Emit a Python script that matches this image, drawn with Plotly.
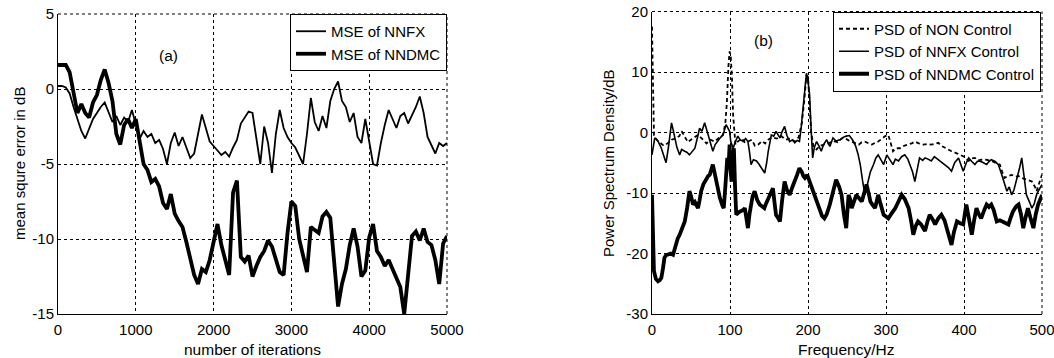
import plotly.graph_objects as go

# ---------------- (a) MSE vs iterations ----------------
iterations = list(range(0, 5001, 50))
mse_nnfx = [
    0.2, 0.2, 0.1, -0.3, -1.2, -2.0, -2.8, -3.3, -2.6, -2.0,
    -1.6, -1.2, -0.9, -1.5, -2.2, -1.8, -2.4, -1.9, -2.2, -1.4,
    -2.4, -3.3, -2.8, -3.2, -3.0, -3.6, -3.4, -4.0, -5.0, -3.6,
    -2.9, -3.8, -3.2, -3.9, -4.6, -4.3, -3.0, -1.7, -2.6, -3.5,
    -3.8, -4.1, -4.4, -4.2, -4.5, -3.9, -3.4, -2.3, -1.9, -1.5,
    -1.6, -3.2, -5.0, -2.5, -3.6, -5.6, -3.0, -1.4, -2.6, -3.2,
    -3.6, -3.9, -4.4, -5.0, -3.0, -0.6, -2.2, -2.8, -1.8, -2.6,
    -0.8, 0.0, 0.5, -0.8, -1.2, -2.2, -1.6, -3.2, -3.6, -2.0,
    -3.5, -5.0, -5.1, -3.6, -2.4, -1.4, -2.0, -2.6, -1.8, -1.6,
    -2.3, -1.8, -1.2, -0.5, -1.6, -3.2, -3.8, -4.3, -3.6, -3.8,
    -3.6,
]
mse_nndmc = [
    1.6, 1.6, 1.6, 1.1, -0.4, -1.6, -1.0, -1.6, -1.9, -0.9,
    -0.4, 0.6, 1.3, 0.4, -0.8, -3.0, -3.7, -2.4, -2.0, -2.6,
    -2.0, -3.4, -5.0, -5.4, -6.2, -6.0, -6.5, -7.6, -8.0, -7.0,
    -8.3, -8.8, -9.2, -10.2, -11.4, -12.4, -13.0, -12.0, -12.2, -11.4,
    -10.2, -9.0, -10.4, -11.5, -12.4, -6.9, -6.1, -11.2, -11.5, -11.1,
    -12.5, -11.8, -11.2, -10.8, -10.1, -10.5, -11.3, -12.2, -12.4, -9.6,
    -7.5, -7.8, -10.0, -11.2, -12.2, -9.2, -9.4, -9.6, -8.5, -8.2,
    -8.6, -11.5, -14.5, -13.0, -12.0, -10.4, -9.3, -10.5, -12.5, -12.1,
    -9.9, -9.0, -10.8, -11.2, -11.8, -11.4, -12.0, -12.7, -13.2, -15.0,
    -12.2, -9.8, -9.5, -10.1, -9.3, -10.2, -10.4, -11.4, -13.0, -10.3,
    -9.8,
]
iter_ticks = [0, 1000, 2000, 3000, 4000, 5000]
iter_ticktext = ["0", "1000", "2000", "3000", "4000", "5000"]
mse_ticks = [-15, -10, -5, 0, 5]
mse_ticktext = ["-15", "-10", "-5", "0", "5"]

# ---------------- (b) PSD vs frequency ----------------
freq_non = [0, 1, 2.5, 6, 10, 15, 20, 25, 30, 35, 38, 42, 46, 50, 55, 59, 64, 70, 75, 80,
            85, 91, 94, 96, 98, 99.5, 101, 102.5, 104, 107, 110, 115, 119, 123, 128, 132, 136, 141, 145, 149,
            154, 160, 166, 171, 177, 183, 188, 192, 195, 198, 200, 202, 204, 207, 211, 215, 221, 226, 232, 238,
            243, 247, 252, 256, 260, 265, 269, 273, 278, 282, 286, 290, 295, 299, 303, 306, 309, 313, 318, 323,
            329, 333, 337, 342, 348, 353, 358, 363, 367, 371, 376, 380, 384, 390, 395, 400, 406, 410, 414, 418,
            422, 428, 435, 440, 446, 449, 452, 456, 461, 466, 470, 474, 480, 487, 491, 493, 496, 500]
psd_non = [17.5, 6, -0.5, -1.2, -1.6, -2.2, -1.8, -1.2, -1.0, -0.6, 0.2, -0.8, -1.6, -1.2, -0.8, -0.4, -1.0, -1.8, -1.2, -1.5,
           -1.0, -0.4, 1.5, 5, 11, 13.4, 12.5, 9, 2.9, -2, -1.5, -1.0, -1.6, -1.5, -1.2, -2.2, -2, -1.4, -1.8, -1.2,
           -0.8, -1.0, -0.6, -1.2, -1.0, -1.5, -0.8, 1.5, 5, 9.5, 9.2, 5, 0.2, -2.4, -2.8, -2.2, -2, -1.8, -1.4, -1.6,
           -1.0, -0.9, -1.3, -1.5, -1.8, -2, -1.6, -1.5, -1.8, -2, -1.7, -1.5, -1.0, -0.6, -0.4, -1.8, -3.1, -2.6, -2.6, -2.2,
           -2.0, -1.8, -1.5, -1.8, -2.0, -1.9, -2.0, -1.8, -1.7, -2.2, -2.6, -2.8, -3.1, -3.4, -3.7, -4.0, -4.7, -4.3, -4.2, -4.6,
           -4.5, -4.5, -4.7, -5.0, -5.3, -6.5, -7.5, -7.2, -7.0, -7.3, -7.2, -7.5, -7.8, -8.1, -9.0, -9.7, -8.5, -7.0]

freq_nnfx = [0, 2, 3.5, 6, 8, 12, 15, 18, 21, 25, 27, 29, 32, 35.5, 38, 42, 45, 48, 52, 55,
             58, 61, 64, 67.5, 70, 72, 75, 78, 81, 85, 88, 91, 95, 97, 99.5, 101, 104, 107, 110, 113,
             117, 120, 123, 125, 127, 130, 134, 137, 140, 144.5, 147, 149, 153, 156, 159, 162, 164, 167, 170, 173,
             176.5, 180, 183, 186, 189, 191, 193.5, 196, 198, 200, 202, 204, 206, 208, 211, 214, 217, 220, 224, 226,
             228, 232, 236, 241, 245, 249, 253, 257, 261, 264, 267, 270, 273, 277, 280, 284, 287, 290, 293, 297,
             301, 305, 309, 312, 316, 320, 324, 328, 331, 334, 337, 340, 343, 347, 350, 354, 358, 362, 367, 371,
             376, 380, 384, 388, 393, 396, 399, 403, 406, 410, 414, 417, 420, 425, 429, 432, 435, 440, 444, 448,
             452, 455, 458, 461, 464, 467, 471, 474, 477, 480, 484, 487, 490, 493, 496, 500]
psd_nnfx = [-3.7, -1.5, -0.9, -1.2, -1.5, -2.6, -3.8, -5, -2.5, 1.6, 0.5, -0.9, -2.5, -3.7, -2.8, -3.1, -3.3, -3.7, -3.0, -2.6,
            -1.0, 0.7, 0.2, 1.6, 0.5, -0.4, -1.8, -3.1, -2.0, -1.2, -0.8, -0.4, 1.3, 0.8, 0.2, -1.5, -2.6, -1.5, -0.6, -1.2,
            -1.5, -1.0, -1.5, -3.2, -5.3, -4.5, -4.7, -5.2, -5.9, -6.7, -5.0, -3.1, -0.4, -0.6, 0.2, -0.4, -0.9, 0.2, 1.0, -0.5,
            -1.5, -1.2, -1.7, -1.3, -1.5, 0.5, 4, 8, 9.8, 8.5, 6.3, 0.5, -4.2, -2.5, -1.5, -2.2, -3.1, -2.0, -1.2, -1.8,
            -2.3, -0.9, -1.4, -1.2, -0.8, -0.6, -0.5, -1.2, -2.2, -3.5, -5.3, -8.0, -10.3, -8.1, -6.5, -5.3, -4.2, -3.7, -4.5, -5.3,
            -3.7, -4.4, -5.3, -4.4, -4.7, -4.0, -3.7, -4.4, -5.3, -6.5, -8.1, -6.0, -4.2, -4.6, -4.2, -4.4, -4.7, -4.0, -4.5, -4.9,
            -5.3, -5.8, -6.4, -5.0, -4.2, -5.4, -6.4, -5.0, -4.2, -4.8, -5.3, -4.8, -4.7, -5.0, -5.3, -4.8, -4.5, -4.8, -5.3, -6.8,
            -8.5, -9.7, -9.0, -10.3, -9.5, -8.1, -6.0, -4.2, -7.0, -10.3, -11.5, -12.5, -11.8, -10.3, -9.5, -8.6]

freq_nndmc = [0, 1.5, 2.5, 5, 7.7, 10, 12, 14, 16, 18, 20.5, 24, 27, 29, 31, 33, 35.5, 38, 40, 42,
              45, 48, 50, 52.6, 55, 57, 59, 61, 63, 66, 70, 72, 74, 76, 78, 80, 82.5, 85, 87, 90,
              92, 94, 96.5, 98, 99.5, 100.5, 102, 103.5, 105, 106.5, 108, 111, 114.5, 117, 119, 121, 123, 125, 127, 129,
              131.6, 135, 138, 141, 144, 146, 149, 152, 155, 157, 159, 162, 164, 167, 170, 173, 176.5, 180, 183, 186,
              189, 192, 194, 196, 199, 202, 205, 208.5, 212, 215, 218, 221, 224, 228, 232, 236, 240, 243, 246, 249,
              252, 254, 256, 259, 262, 265, 269, 272, 275, 278, 280, 283, 286, 288, 290, 293, 297, 300, 303, 307,
              312, 316, 320, 324, 329, 332, 335, 338, 341, 345, 350, 353, 356, 360, 363, 367, 371, 375, 378, 381,
              384, 387, 391, 395, 399, 401, 403, 406, 410, 413, 416, 419, 422, 426, 429, 432, 435, 438, 442, 446,
              450, 454, 457, 460, 463, 467, 470, 473, 476, 479, 482, 485, 489, 492, 495, 498, 500]
psd_nndmc = [-10.3, -18, -22.9, -24.2, -24.6, -24.4, -24, -22.5, -20.7, -20.3, -20.2, -20.0, -20.2, -19.2, -18, -17.5, -16.9, -16, -15.2, -14.7,
             -12.5, -9.7, -10.5, -11.9, -11.5, -12.2, -12.5, -11.2, -9.7, -8.5, -7.5, -7.2, -7, -6.2, -5.3, -6.5, -8.1, -9.8, -10.8, -12.0,
             -12.5, -9.0, -4.2, -6, -2, -6, -8.1, -5, -2.6, -9, -13.6, -13.2, -13, -12.8, -12.5, -14, -15.8, -13.5, -11.4, -10.5,
             -9.7, -11.2, -11.9, -12.2, -12.5, -11.8, -10.8, -10.0, -9.2, -11.5, -13.6, -14.2, -14.7, -11.0, -8.1, -9.5, -10.3, -9.0, -8.1, -7.0,
             -5.9, -6.5, -7.2, -7.5, -7.0, -8.1, -9.0, -10.3, -11.8, -13, -13.8, -14.2, -13.5, -11.9, -9.5, -7.8, -9.0, -10.3, -13.5, -15.8,
             -10.3, -11.0, -12.5, -11.4, -10.3, -10.8, -11.4, -10.0, -8.6, -10.2, -11.4, -12.0, -12.5, -11.4, -10.3, -11.8, -13.6, -13.9, -14.2, -13.4,
             -12.5, -11.4, -10.3, -11.0, -12.5, -14.5, -16.9, -15.5, -14.7, -15.2, -16.3, -14.8, -13.6, -14.4, -15.2, -14.2, -13.6, -14.5, -15.8, -17.0,
             -18.6, -16.5, -14.7, -15.0, -15.2, -13.5, -11.9, -14.0, -16.9, -14.5, -12.5, -13.5, -14.2, -12.8, -11.9, -12.3, -11.9, -12.8, -14.7, -14.5,
             -14.7, -15.0, -15.2, -14.0, -13, -12.2, -11.9, -13.5, -15.8, -14.0, -12.5, -14.0, -15.8, -13.5, -11.9, -11.0, -10.3]
freq_ticks = [0, 100, 200, 300, 400, 500]
freq_ticktext = ["0", "100", "200", "300", "400", "500"]
psd_ticks = [-30, -20, -10, 0, 10, 20]
psd_ticktext = ["-30", "-20", "-10", "0", "10", "20"]

FONT = "Arial, Liberation Sans, sans-serif"
W, H = 1054, 358

fig = go.Figure()
fig.add_trace(go.Scatter(x=iterations, y=mse_nnfx, mode="lines", name="MSE of NNFX",
                         line=dict(color="black", width=1.8), xaxis="x", yaxis="y", legend="legend"))
fig.add_trace(go.Scatter(x=iterations, y=mse_nndmc, mode="lines", name="MSE of NNDMC",
                         line=dict(color="black", width=3.8), xaxis="x", yaxis="y", legend="legend"))
fig.add_trace(go.Scatter(x=freq_non, y=psd_non, mode="lines", name="PSD of NON Control",
                         line=dict(color="black", width=1.8, dash="4px,3px"), xaxis="x2", yaxis="y2", legend="legend2"))
fig.add_trace(go.Scatter(x=freq_nnfx, y=psd_nnfx, mode="lines", name="PSD of NNFX Control",
                         line=dict(color="black", width=1.6), xaxis="x2", yaxis="y2", legend="legend2"))
fig.add_trace(go.Scatter(x=freq_nndmc, y=psd_nndmc, mode="lines", name="PSD of NNDMC Control",
                         line=dict(color="black", width=3.8), xaxis="x2", yaxis="y2", legend="legend2"))


def px_x(p):
    return p / W


def px_y(p):
    return (H - p) / H


common = dict(showline=True, linecolor="black", linewidth=1, mirror=False,
              showgrid=True, gridcolor="black", gridwidth=1, griddash="3px,3px",
              zeroline=False, ticks="", automargin=False, ticklabeloverflow="allow",
              tickfont=dict(family=FONT, size=15, color="black"))

fig.update_layout(
    width=W, height=H,
    margin=dict(l=0, r=0, t=0, b=0),
    paper_bgcolor="white", plot_bgcolor="white",
    font=dict(family=FONT, size=15, color="black"),
    xaxis=dict(domain=[px_x(58), px_x(447)], range=[0, 5000], tickvals=iter_ticks, ticktext=iter_ticktext,
               anchor="y", ticklabelstandoff=2, **common),
    yaxis=dict(domain=[px_y(314), px_y(14)], range=[-15, 5], tickvals=mse_ticks, ticktext=mse_ticktext,
               anchor="x", **common),
    xaxis2=dict(domain=[px_x(652), px_x(1042)], range=[0, 500], tickvals=freq_ticks, ticktext=freq_ticktext,
                anchor="y2", ticklabelstandoff=2, **common),
    yaxis2=dict(domain=[px_y(314), px_y(11.5)], range=[-30, 20], tickvals=psd_ticks, ticktext=psd_ticktext,
                anchor="x2", **common),
    legend=dict(x=px_x(447), y=px_y(14), xanchor="right", yanchor="top",
                bgcolor="white", bordercolor="black", borderwidth=1,
                font=dict(family=FONT, size=15, color="black"), tracegroupgap=0),
    legend2=dict(x=px_x(1041), y=px_y(11.5), xanchor="right", yanchor="top",
                 bgcolor="white", bordercolor="black", borderwidth=1,
                 font=dict(family=FONT, size=15, color="black"), tracegroupgap=0),
    showlegend=True,
)

# dashed grid along the top and right frame edges (plotly omits grid lines at the range ends)
for xa, ya in (("x", "y"), ("x2", "y2")):
    edge = dict(type="line", xref=f"{xa} domain", yref=f"{ya} domain", layer="below",
                line=dict(color="black", width=1, dash="3px,3px"))
    fig.add_shape(x0=0, x1=1, y0=1, y1=1, **edge)
    fig.add_shape(x0=1, x1=1, y0=0, y1=1, **edge)

ann = dict(xref="paper", yref="paper", showarrow=False, xanchor="center", yanchor="middle",
           font=dict(family=FONT, size=15.5, color="black"))
fig.add_annotation(text="(a)", x=px_x(168), y=px_y(55), **ann)
fig.add_annotation(text="(b)", x=px_x(763), y=px_y(40), **ann)
fig.add_annotation(text="number of iterations", x=px_x(252), y=px_y(349), **ann)
fig.add_annotation(text="Frequency/Hz", x=px_x(846), y=px_y(349), **ann)
ann_y = dict(ann, font=dict(family=FONT, size=15, color="black"))
fig.add_annotation(text="mean squre error in dB", x=px_x(19), y=px_y(164), textangle=-90, **ann_y)
fig.add_annotation(text="Power Spectrum Density/dB", x=px_x(608), y=px_y(163), textangle=-90, **ann_y)

fig.write_html("out.html", config={"displayModeBar": False},
               post_script="document.body.style.margin='0px';document.body.style.overflow='hidden';")
